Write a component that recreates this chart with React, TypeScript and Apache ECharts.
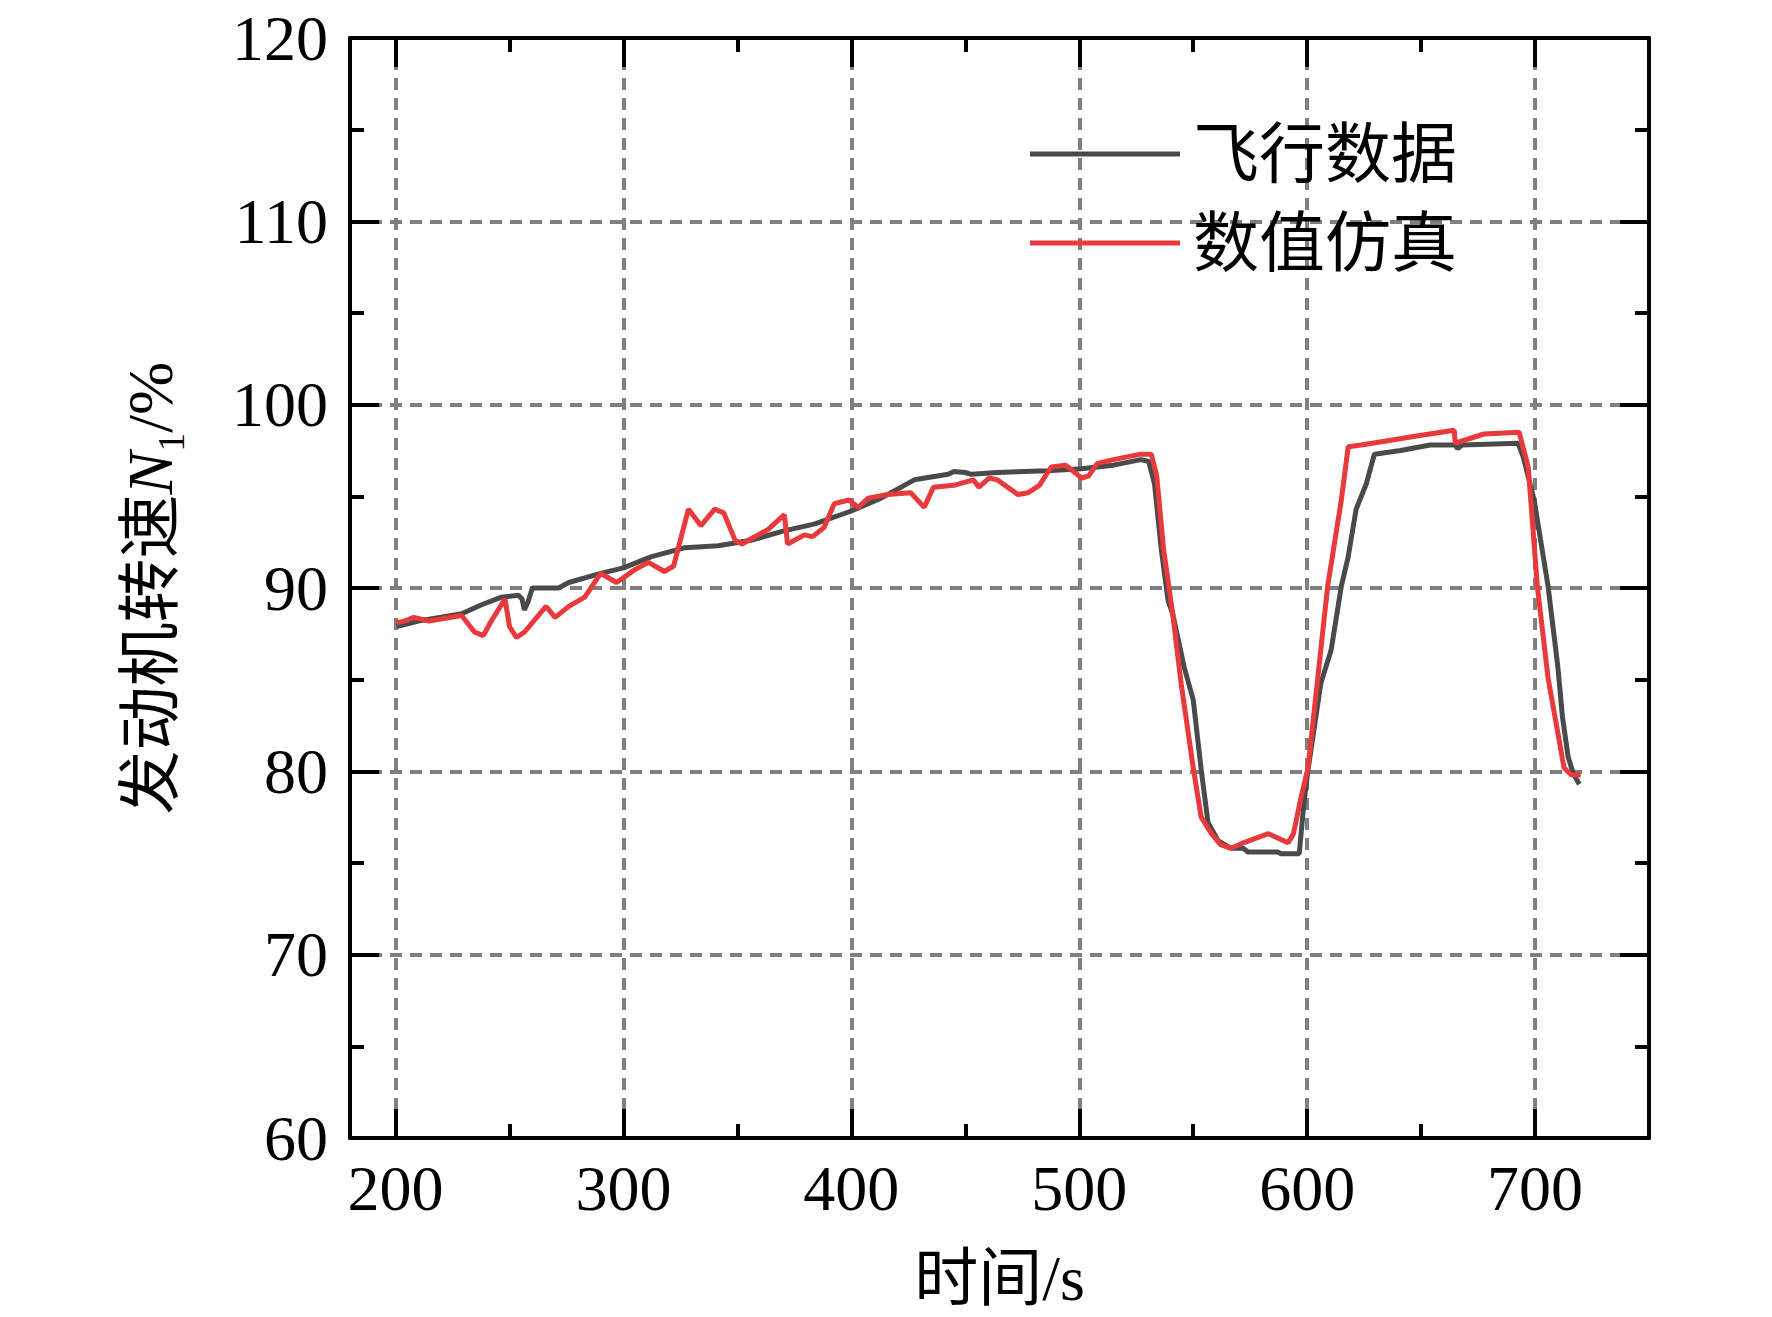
import React, { useEffect, useRef } from 'react';
import * as echarts from 'echarts';

const flightT = [200.5, 210, 220, 229, 238, 246.5, 254, 255.5, 256.5, 258, 260, 271.5, 276, 290, 300, 312, 327, 341.6, 356, 370, 384, 400, 413, 427.6, 442.5, 445, 450, 452.6, 464, 486, 501, 515, 527, 530.5, 533, 536, 539, 541, 546, 550, 553.5, 556.5, 561, 566.7, 572, 574, 587, 588.6, 596.5, 598.7, 600.4, 606, 610.5, 615, 618, 621.5, 626, 629.5, 641, 654, 665, 666, 668, 692.5, 694.7, 699.6, 705.7, 710, 712, 714.5, 716.7, 719.4];
const flightN1 = [87.9, 88.2, 88.4, 88.6, 89.1, 89.5, 89.6, 89.4, 88.8, 89.2, 90.0, 90.0, 90.3, 90.8, 91.1, 91.7, 92.2, 92.3, 92.6, 93.1, 93.5, 94.2, 94.9, 95.9, 96.2, 96.35, 96.3, 96.2, 96.3, 96.4, 96.5, 96.7, 97.0, 96.9, 95.7, 92.1, 89.3, 88.6, 85.7, 83.9, 80.1, 77.2, 76.2, 75.8, 75.8, 75.6, 75.6, 75.5, 75.5, 78.4, 80.1, 84.8, 86.6, 90.1, 91.7, 94.3, 95.7, 97.3, 97.5, 97.8, 97.8, 97.6, 97.8, 97.9, 97.2, 94.8, 90.1, 85.7, 83.0, 80.8, 79.9, 79.3];

const simT = [200.5, 204, 208, 214.5, 229, 234.6, 238.5, 242, 248, 250, 253, 256.6, 266, 270, 276, 283, 290, 297, 305, 311, 318, 322, 328.5, 334, 340, 344, 349, 352, 363.5, 370.6, 372, 379.4, 383, 388, 392.5, 399, 403, 407.4, 416, 426, 432, 436, 445, 453.5, 456, 460.5, 464, 473, 477.6, 482.5, 487.7, 494, 501, 504, 508, 515, 527, 531.6, 534, 537, 541, 544.7, 550, 553.5, 558, 562, 566.7, 572, 578.5, 583, 591.7, 594, 597, 600.4, 609, 615, 618, 623.7, 634, 648.7, 664.5, 665, 677.6, 693, 697, 701, 705.7, 710, 712.7, 716, 720];
const simN1 = [88.1, 88.2, 88.4, 88.2, 88.5, 87.6, 87.4, 88.2, 89.4, 87.9, 87.3, 87.6, 89.0, 88.4, 89.0, 89.5, 90.8, 90.3, 91.0, 91.4, 90.9, 91.2, 94.3, 93.4, 94.3, 94.1, 92.6, 92.4, 93.2, 94.0, 92.4, 92.9, 92.8, 93.3, 94.6, 94.8, 94.4, 94.9, 95.1, 95.2, 94.4, 95.5, 95.6, 95.9, 95.5, 96.0, 95.9, 95.1, 95.2, 95.6, 96.6, 96.7, 96.0, 96.1, 96.8, 97.0, 97.3, 97.3, 96.1, 92.1, 88.6, 84.8, 80.2, 77.5, 76.6, 76.0, 75.8, 76.1, 76.4, 76.6, 76.1, 76.6, 78.4, 80.2, 90.1, 94.8, 97.7, 97.8, 98.0, 98.3, 98.6, 97.9, 98.4, 98.5, 96.6, 90.1, 85.1, 82.1, 80.2, 79.8, 79.8];

const seriesNames = ['飞行数据', '数值仿真'];
const seriesColors = ['#4a4a4a', '#e8393c'];
const xRange = [180, 750];
const yRange = [60, 120];
const xMajorTicks = [200, 300, 400, 500, 600, 700];
const xMinorTicks = [250, 350, 450, 550, 650];
const xAxisName = '时间/s';

const FONT = '"Liberation Serif", "Times New Roman", "Noto Sans CJK SC", serif';

export default function App() {
  const ref = useRef<HTMLDivElement>(null);
  useEffect(() => {
    if (!ref.current) return;
    const chart = echarts.init(ref.current, null, { renderer: 'svg' });
    const gridRect = { left: 350, top: 38, width: 1299, height: 1100 };
    const black = '#000';
    const split = { show: true, lineStyle: { color: '#7f7f7f', width: 4, type: [12, 8] as any } };
    const majorTick = { show: true, inside: true, length: 29, lineStyle: { color: black, width: 4 } };
    const axisLine = { show: true, lineStyle: { color: black, width: 4 } };
    const labelStyle = { fontFamily: FONT, fontSize: 64, color: black };
    const option: any = {
      animation: false,
      backgroundColor: '#fff',
      grid: [
        { ...gridRect, containLabel: false },
        { ...gridRect, containLabel: false },
      ],
      legend: {
        orient: 'vertical',
        left: 1030,
        top: 114,
        padding: 0,
        itemWidth: 150,
        itemHeight: 5,
        itemGap: 9,
        data: seriesNames.map((n) => ({ name: n, icon: 'rect' })),
        textStyle: { fontFamily: FONT, fontSize: 66, color: black, lineHeight: 80, padding: [0, 0, 0, 8] },
      },
      xAxis: [
        {
          type: 'value', gridIndex: 0, position: 'bottom', min: xRange[0], max: xRange[1],
          axisLine,
          axisTick: { ...majorTick, customValues: xMajorTicks },
          splitLine: split,
          axisLabel: { ...labelStyle, margin: 18, customValues: xMajorTicks },
          name: xAxisName, nameLocation: 'middle', nameGap: 108,
          nameTextStyle: { fontFamily: FONT, fontSize: 64, color: black },
        },
        {
          type: 'value', gridIndex: 0, position: 'top', min: xRange[0], max: xRange[1],
          axisLine, axisTick: { ...majorTick, customValues: xMajorTicks }, splitLine: { show: false }, axisLabel: { show: false },
        },
        {
          type: 'value', gridIndex: 1, position: 'bottom', min: xRange[0], max: xRange[1],
          axisLine: { show: false }, axisTick: { ...majorTick, length: 14, customValues: xMinorTicks }, splitLine: { show: false }, axisLabel: { show: false },
        },
        {
          type: 'value', gridIndex: 1, position: 'top', min: xRange[0], max: xRange[1],
          axisLine: { show: false }, axisTick: { ...majorTick, length: 14, customValues: xMinorTicks }, splitLine: { show: false }, axisLabel: { show: false },
        },
      ],
      yAxis: [
        {
          type: 'value', gridIndex: 0, position: 'left', min: yRange[0], max: yRange[1], interval: 10,
          axisLine, axisTick: majorTick, splitLine: split,
          minorTick: { show: true, splitNumber: 2, length: 14, lineStyle: { color: black, width: 4 } },
          axisLabel: { ...labelStyle, margin: 22 },
          name: '{a|发动机转速}{n|N}{s|1}{a|/%}', nameLocation: 'middle', nameGap: 160,
          nameTextStyle: {
            fontFamily: FONT, fontSize: 64, color: black,
            rich: {
              a: { fontFamily: FONT, fontSize: 64, color: black, lineHeight: 80 },
              n: { fontFamily: FONT, fontSize: 64, fontStyle: 'italic', color: black, lineHeight: 80 },
              s: { fontFamily: FONT, fontSize: 38, color: black, verticalAlign: 'bottom', lineHeight: 40 },
            },
          },
        },
        {
          type: 'value', gridIndex: 0, position: 'right', min: yRange[0], max: yRange[1], interval: 10,
          axisLine, axisTick: majorTick, splitLine: { show: false },
          minorTick: { show: true, splitNumber: 2, length: 14, lineStyle: { color: black, width: 4 } },
          axisLabel: { show: false },
        },
        {
          type: 'value', gridIndex: 1, min: yRange[0], max: yRange[1], interval: 10, show: false,
        },
      ],
      series: [
        {
          name: seriesNames[0], type: 'line', xAxisIndex: 0, yAxisIndex: 0, showSymbol: false, symbol: 'none',
          data: flightT.map((t, i) => [t, flightN1[i]]),
          lineStyle: { color: seriesColors[0], width: 5 }, itemStyle: { color: seriesColors[0] }, z: 3,
        },
        {
          name: seriesNames[1], type: 'line', xAxisIndex: 0, yAxisIndex: 0, showSymbol: false, symbol: 'none',
          data: simT.map((t, i) => [t, simN1[i]]),
          lineStyle: { color: seriesColors[1], width: 5 }, itemStyle: { color: seriesColors[1] }, z: 4,
        },
      ],
    };
    chart.setOption(option);
    return () => chart.dispose();
  }, []);
  return <div ref={ref} style={{ position: 'fixed', left: 0, top: 0, width: 1772, height: 1317, background: '#fff' }} />;
}
